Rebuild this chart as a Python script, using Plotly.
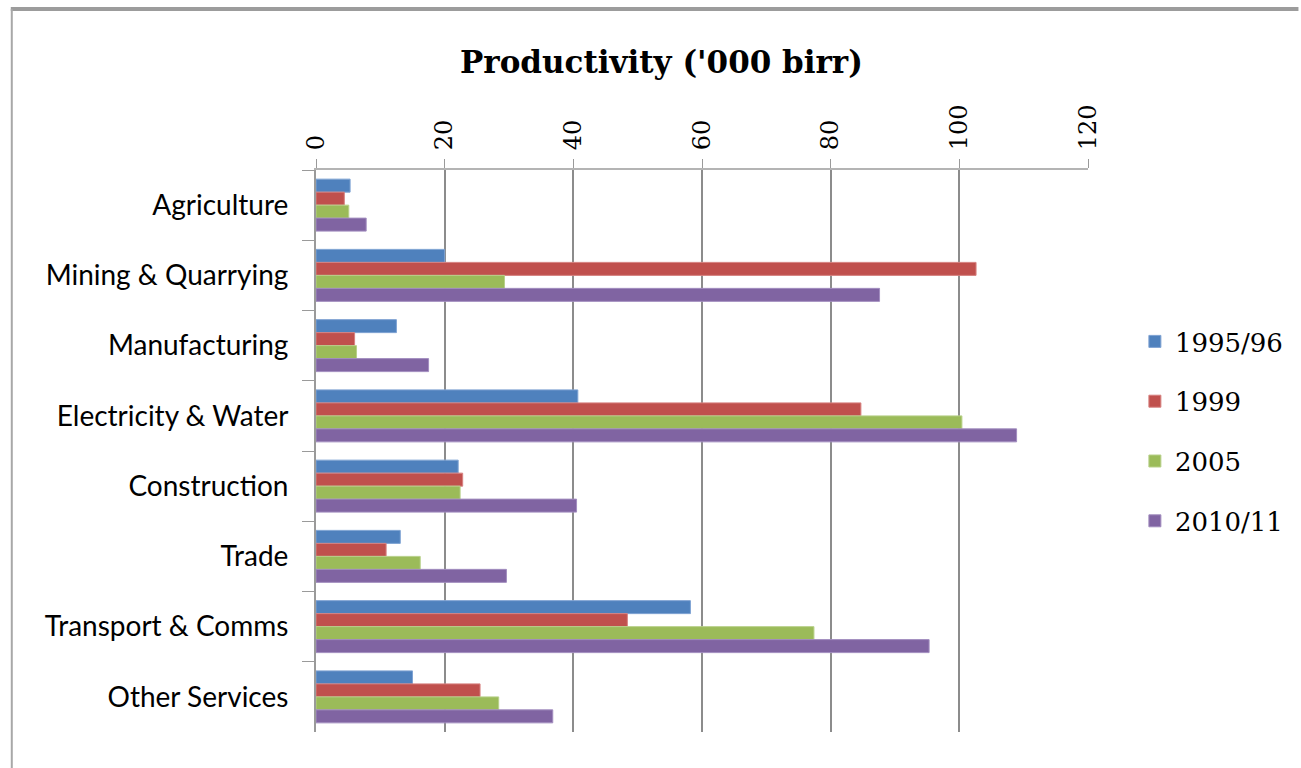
import plotly.graph_objects as go

# Sector productivity, thousand birr per worker
sectors = ["Agriculture", "Mining & Quarrying", "Manufacturing", "Electricity & Water",
           "Construction", "Trade", "Transport & Comms", "Other Services"]
years = ["1995/96", "1999", "2005", "2010/11"]
v_1995 = [5.3, 20.0, 12.5, 40.7, 22.1, 13.1, 58.2, 15.0]
v_1999 = [4.4, 102.6, 6.0, 84.7, 22.8, 10.9, 48.4, 25.5]
v_2005 = [5.1, 29.3, 6.3, 100.4, 22.4, 16.2, 77.4, 28.4]
v_2010 = [7.8, 87.6, 17.5, 108.9, 40.5, 29.6, 95.3, 36.8]
x_ticks = [0, 20, 40, 60, 80, 100, 120]

series = [v_1995, v_1999, v_2005, v_2010]
colors = ["#4F81BD", "#C0504D", "#9BBB59", "#8064A2"]
edges = ["#7fa3d3", "#d78280", "#b8d18a", "#a28dbf"]

fig = go.Figure()
for name, vals, c, e in zip(years, series, colors, edges):
    fig.add_trace(go.Bar(
        y=sectors, x=vals, name=name, orientation="h",
        marker=dict(color=c, line=dict(color=e, width=1)),
        legendgroup=name,
    ))

W, H = 1301, 768
L, R, T, B = 316, 211, 170, 36
pw, ph = W - L - R, H - T - B


def px_x(p):
    return (p - L) / pw


def px_y(p):
    return 1 - (p - T) / ph


fig.update_layout(
    width=W, height=H,
    margin=dict(l=L, r=R, t=T, b=B),
    paper_bgcolor="white", plot_bgcolor="white",
    barmode="group", bargap=0.26, bargroupgap=0,
    showlegend=True,
    legend=dict(
        x=px_x(1137), y=px_y(318), xanchor="left", yanchor="top",
        font=dict(family="DejaVu Serif", size=26, color="#000000"),
        tracegroupgap=23, bgcolor="rgba(0,0,0,0)",
    ),
    xaxis=dict(
        side="top", range=[0, 120], tickvals=x_ticks,
        ticktext=[str(t) for t in x_ticks],
        tickangle=-90, ticks="outside", ticklen=9, tickcolor="#9a9a9a",
        showgrid=True, gridcolor="#8c8c8c", gridwidth=1.5,
        showline=True, linecolor="#b4b4b4", linewidth=2,
        zeroline=False,
        tickfont=dict(family="DejaVu Serif", size=24, color="#000000"),
        ticklabelstandoff=4,
    ),
    yaxis=dict(
        autorange="reversed", type="category",
        tickson="boundaries", ticks="outside", ticklen=12, tickcolor="#9a9a9a",
        showline=True, linecolor="#9a9a9a", linewidth=2,
        showgrid=False,
        tickfont=dict(family="Lato", size=28, color="#000000"),
        ticklabelstandoff=20,
    ),
    annotations=[dict(
        text="<b>Productivity ('000 birr)</b>", showarrow=False,
        xref="paper", yref="paper", x=px_x(662), y=px_y(62),
        xanchor="center", yanchor="middle",
        font=dict(family="DejaVu Serif", size=31, color="#000000"),
    )],
    shapes=[
        dict(type="line", xref="paper", yref="paper",
             x0=px_x(10), x1=px_x(1301), y0=px_y(9), y1=px_y(9),
             line=dict(color="#9c9c9c", width=4)),
        dict(type="line", xref="paper", yref="paper",
             x0=px_x(11), x1=px_x(11), y0=px_y(9), y1=px_y(768),
             line=dict(color="#a8a8a8", width=2)),
    ],
)

fig.write_html("out.html")
